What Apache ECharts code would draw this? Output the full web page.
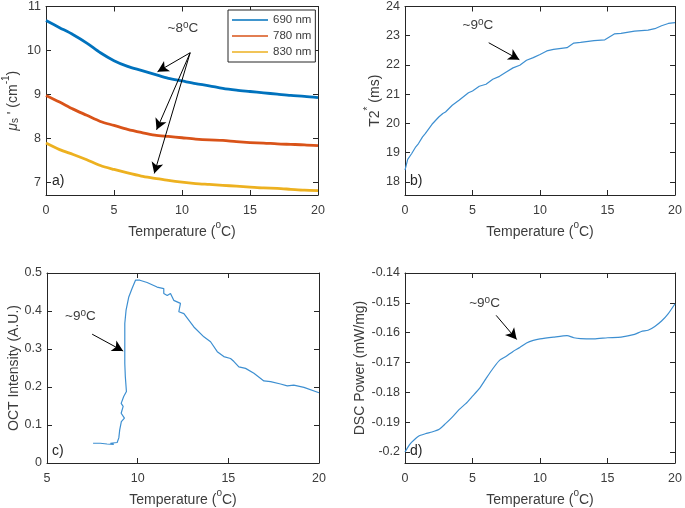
<!DOCTYPE html>
<html><head><meta charset="utf-8">
<script src="https://cdn.jsdelivr.net/npm/echarts@6/dist/echarts.min.js"></script>
<style>html,body{margin:0;padding:0;background:#fff}#c{width:685px;height:508px}</style>
</head><body><div id="c"></div>
<script>
// ---- data ----
const tempA = [0,1,2,3,4,5,6,7,8,9,10,11,12,13,14,15,16,17,18,19,20];
const mu690 = [10.68,10.52,10.36,10.17,9.95,9.77,9.64,9.55,9.46,9.37,9.31,9.25,9.20,9.14,9.10,9.07,9.04,9.01,8.98,8.96,8.93];
const mu780 = [8.98,8.83,8.67,8.53,8.39,8.30,8.21,8.14,8.08,8.05,8.02,7.99,7.97,7.96,7.93,7.91,7.90,7.88,7.87,7.86,7.84];
const mu830 = [7.90,7.75,7.64,7.52,7.39,7.30,7.22,7.15,7.10,7.05,7.01,6.98,6.96,6.94,6.92,6.90,6.88,6.87,6.85,6.83,6.82];

const t2Temp = [0,0.2,0.5,0.8,1.0,1.3,1.5,2,2.5,2.8,3,3.5,4,4.7,5,5.5,6,6.5,7,7.5,8,8.5,9,9.5,10,10.5,11,12,12.5,13,14,14.8,15.5,16,17,18,18.5,19,19.5,20];
const t2Val  = [18.40,18.77,18.97,19.2,19.31,19.54,19.65,19.97,20.22,20.34,20.39,20.62,20.79,21.05,21.11,21.27,21.34,21.51,21.61,21.76,21.90,21.99,22.16,22.25,22.36,22.48,22.53,22.59,22.75,22.77,22.83,22.86,23.06,23.08,23.16,23.19,23.24,23.34,23.42,23.45];

const octTemp = [7.54,7.94,8.31,8.68,8.5,8.87,8.96,9.01,9.1,9.27,9.09,9.2,9.09,9.23,9.38,9.32,9.29,9.29,9.29,9.36,9.51,9.69,9.88,9.97,10.12,10.52,11.07,11.44,11.44,11.63,11.81,11.99,12.36,12.27,12.55,13.1,13.65,14.02,14.39,14.75,15.12,15.31,15.58,15.95,16.41,16.96,17.33,17.88,18.25,18.61,19.17,20.0];
const octVal  = [0.052,0.052,0.050,0.049,0.052,0.054,0.066,0.087,0.109,0.118,0.131,0.149,0.157,0.175,0.188,0.227,0.262,0.315,0.367,0.402,0.437,0.459,0.481,0.485,0.481,0.475,0.463,0.459,0.446,0.441,0.446,0.428,0.420,0.398,0.393,0.358,0.332,0.319,0.293,0.280,0.275,0.267,0.253,0.249,0.236,0.216,0.214,0.208,0.203,0.205,0.199,0.185];

const dscTemp = [0,0.3,0.5,1,1.5,2,2.5,3,3.5,4,4.5,5,5.5,6,6.5,7,7.5,8,8.5,9,9.5,10,11,12,12.5,13,14,15,16,17,17.5,18,18.5,19,19.5,20];
const dscVal  = [-0.2000,-0.1978,-0.1967,-0.1947,-0.1939,-0.1933,-0.1925,-0.1905,-0.1883,-0.1858,-0.1838,-0.1813,-0.1788,-0.1754,-0.1721,-0.1693,-0.1679,-0.1663,-0.1650,-0.1635,-0.1626,-0.1621,-0.1615,-0.1610,-0.1617,-0.1620,-0.1621,-0.1617,-0.1615,-0.1606,-0.1596,-0.1592,-0.1579,-0.1561,-0.1536,-0.1503];

// tick values
const xTicksA = [0,5,10,15,20];
const xTicksC = [5,10,15,20];
const yTicksA = [7,8,9,10,11];
const yTicksB = [18,19,20,21,22,23,24];
const yTicksC = [0,0.1,0.2,0.3,0.4,0.5];
const yTicksD = [-0.2,-0.19,-0.18,-0.17,-0.16,-0.15,-0.14];

// annotations (data coordinates)
const annA = {label:[10.07,10.5], from:[10.6,9.95], to:[[8.2,9.52],[8.13,8.2],[7.96,7.21]], text:'~8{sup|o}C'};
const annB = {label:[5.4,23.35], from:[6.2,22.76], to:[[8.47,22.18]], text:'~9{sup|o}C'};
const annC = {label:[6.84,0.385], from:[7.49,0.339], to:[[9.2,0.2946]], text:'~9{sup|o}C'};
const annD = {label:[5.89,-0.1503], from:[6.75,-0.1542], to:[[8.27,-0.1623]], text:'~9{sup|o}C'};

// ---- style ----
const FONT = '"Liberation Sans", Arial, sans-serif';
const AX = '#262626';
const TX = '#3c3c3c';
const BLUE = '#0072BD', ORANGE = '#D95319', YELLOW = '#EDB120', LBLUE = '#3D8FD1';
const rich = {
  n:{fontSize:14,fontFamily:FONT,color:TX,lineHeight:19,verticalAlign:'bottom'},
  i:{fontSize:14,fontFamily:FONT,color:TX,fontStyle:'italic',lineHeight:19,verticalAlign:'bottom'},
  sup:{fontSize:10,fontFamily:FONT,color:TX,lineHeight:11,verticalAlign:'top'},
  sub:{fontSize:10,fontFamily:FONT,color:TX,lineHeight:11,verticalAlign:'bottom'}
};
const grids = [
  {left:46, top:5, width:272, height:190},
  {left:405, top:5, width:272, height:190},
  {left:47, top:273, width:272, height:190},
  {left:405, top:273, width:272, height:190}
];
const xName = '{n|Temperature (}{sup|o}{n|C)}';
const xAxes = [], yAxes = [];
function baseAxis(gi, min, max, ticks){
  return {type:'value', gridIndex:gi, min, max, splitLine:{show:false},
    axisLine:{show:true, onZero:false, lineStyle:{color:AX,width:1}},
    axisTick:{show:true, inside:true, length:5, lineStyle:{color:AX}, customValues:ticks}};
}
function addX(gi, min, max, ticks){
  const base = baseAxis(gi, min, max, ticks);
  xAxes.push(Object.assign({}, base, {position:'bottom',
    axisLabel:{color:TX, fontSize:12.5, fontFamily:FONT, margin:9, customValues:ticks},
    name:xName, nameLocation:'middle', nameGap:25, nameTextStyle:{rich}}));
  xAxes.push(Object.assign({}, base, {position:'top', axisLabel:{show:false}}));
}
function addY(gi, min, max, ticks, name, gap){
  const base = baseAxis(gi, min, max, ticks);
  yAxes.push(Object.assign({}, base, {position:'left',
    axisLabel:{color:TX, fontSize:12.5, fontFamily:FONT, margin:5, customValues:ticks,
      formatter: v => String(+(+v).toFixed(2))},
    name, nameLocation:'middle', nameGap:gap, nameRotate:90, nameTextStyle:{rich}}));
  yAxes.push(Object.assign({}, base, {position:'right', axisLabel:{show:false}}));
}
addX(0,0,20,xTicksA); addY(0,6.72,11,yTicksA,'{i|μ}{sub|s}{n| \' (cm}{sup|-1}{n|)}',26);
addX(1,0,20,xTicksA); addY(1,17.55,24,yTicksB,'{n|T2}{sup|*}{n| (ms)}',20);
addX(2,5,20,xTicksC); addY(2,0,0.5,yTicksC,'{n|OCT Intensity (A.U.)}',25);
addX(3,0,20,xTicksA); addY(3,-0.2037,-0.14,yTicksD,'{n|DSC Power (mW/mg)}',37);

function pairs(xs, ys){ return xs.map((x,i)=>[x, ys[i]]); }
function annotate(a){
  return {
    markLine:{silent:true, animation:false, symbol:['none','arrow'], symbolSize:[9,11],
      lineStyle:{color:'#000', width:1, type:'solid'}, label:{show:false},
      data: a.to.map(t => [{coord:a.from},{coord:t}])},
    markPoint:{silent:true, animation:false, symbol:'circle', symbolSize:0,
      data:[{coord:a.label, label:{show:true, position:'inside', formatter:a.text,
        rich:{sup:{fontSize:10,fontFamily:FONT,color:TX,lineHeight:11,verticalAlign:'top'}},
        fontSize:13.5, fontFamily:FONT, color:TX, lineHeight:17}}]}
  };
}
const series = [
  Object.assign({name:'690 nm', type:'line', xAxisIndex:0, yAxisIndex:0, data:pairs(tempA,mu690), symbol:'none', smooth:0.3,
    lineStyle:{color:BLUE,width:2.8}, itemStyle:{color:BLUE}}, annotate(annA)),
  {name:'780 nm', type:'line', xAxisIndex:0, yAxisIndex:0, data:pairs(tempA,mu780), symbol:'none', smooth:0.3,
    lineStyle:{color:ORANGE,width:2.8}, itemStyle:{color:ORANGE}},
  {name:'830 nm', type:'line', xAxisIndex:0, yAxisIndex:0, data:pairs(tempA,mu830), symbol:'none', smooth:0.3,
    lineStyle:{color:YELLOW,width:2.8}, itemStyle:{color:YELLOW}},
  Object.assign({type:'line', xAxisIndex:2, yAxisIndex:2, data:pairs(t2Temp,t2Val), symbol:'none',
    lineStyle:{color:LBLUE,width:1.2}, itemStyle:{color:LBLUE}}, annotate(annB)),
  Object.assign({type:'line', xAxisIndex:4, yAxisIndex:4, data:pairs(octTemp,octVal), symbol:'none',
    lineStyle:{color:LBLUE,width:1.2}, itemStyle:{color:LBLUE}}, annotate(annC)),
  Object.assign({type:'line', xAxisIndex:6, yAxisIndex:6, data:pairs(dscTemp,dscVal), symbol:'none', smooth:0.2,
    lineStyle:{color:LBLUE,width:1.2}, itemStyle:{color:LBLUE}}, annotate(annD))
];
const chart = echarts.init(document.getElementById('c'), null, {renderer:'canvas'});
chart.setOption({
  animation:false,
  backgroundColor:'#fff',
  textStyle:{fontFamily:FONT},
  grid:grids,
  xAxis:xAxes,
  yAxis:yAxes,
  legend:{data:['690 nm','780 nm','830 nm'], orient:'vertical', left:228, top:10,
    icon:'rect', itemWidth:36, itemHeight:1.6, itemGap:4,
    textStyle:{fontSize:11.5, fontFamily:FONT, color:TX},
    borderColor:AX, borderWidth:1, backgroundColor:'#fff', padding:[4,4,4,4]},
  graphic:[
    {type:'text', left:52, top:174, style:{text:'a)', font:'14px '+FONT, fill:AX}},
    {type:'text', left:410, top:174, style:{text:'b)', font:'14px '+FONT, fill:AX}},
    {type:'text', left:52, top:444, style:{text:'c)', font:'14px '+FONT, fill:AX}},
    {type:'text', left:410, top:444, style:{text:'d)', font:'14px '+FONT, fill:AX}}
  ],
  series
});
</script></body></html>
